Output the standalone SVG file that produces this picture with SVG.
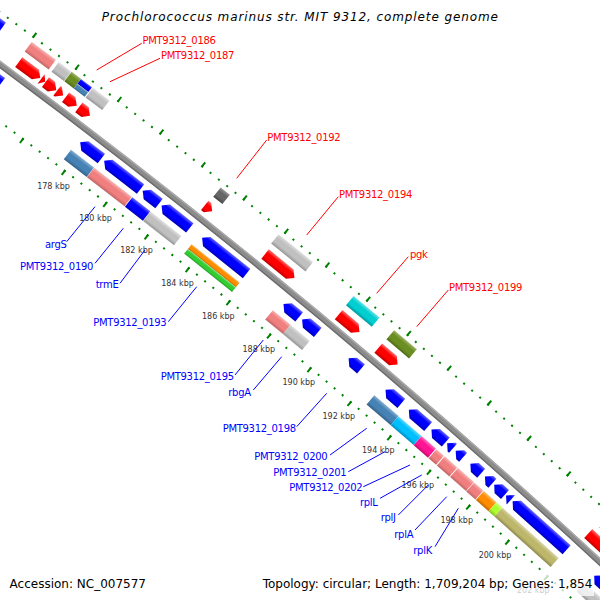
<svg xmlns="http://www.w3.org/2000/svg" width="600" height="600" viewBox="0 0 600 600">
<defs>
<linearGradient id="gRed" x1="0" y1="0" x2="0" y2="1"><stop offset="0" stop-color="#ff7070"/><stop offset="0.3" stop-color="#ff0000"/><stop offset="0.7" stop-color="#ff0000"/><stop offset="1" stop-color="#c00000"/></linearGradient>
<linearGradient id="gBlue" x1="0" y1="0" x2="0" y2="1"><stop offset="0" stop-color="#6a6aff"/><stop offset="0.3" stop-color="#0000ff"/><stop offset="0.7" stop-color="#0000ff"/><stop offset="1" stop-color="#0000b8"/></linearGradient>
<linearGradient id="gGrey" x1="0" y1="0" x2="0" y2="1"><stop offset="0" stop-color="#e0e0e0"/><stop offset="0.3" stop-color="#c0c0c0"/><stop offset="0.7" stop-color="#c0c0c0"/><stop offset="1" stop-color="#959595"/></linearGradient>
<linearGradient id="gDim" x1="0" y1="0" x2="0" y2="1"><stop offset="0" stop-color="#999999"/><stop offset="0.3" stop-color="#666666"/><stop offset="0.7" stop-color="#666666"/><stop offset="1" stop-color="#444444"/></linearGradient>
<linearGradient id="gPink" x1="0" y1="0" x2="0" y2="1"><stop offset="0" stop-color="#f7b5b5"/><stop offset="0.3" stop-color="#f08080"/><stop offset="0.7" stop-color="#f08080"/><stop offset="1" stop-color="#c06565"/></linearGradient>
<linearGradient id="gSteel" x1="0" y1="0" x2="0" y2="1"><stop offset="0" stop-color="#86aed0"/><stop offset="0.3" stop-color="#4682b4"/><stop offset="0.7" stop-color="#4682b4"/><stop offset="1" stop-color="#356287"/></linearGradient>
<linearGradient id="gOlive" x1="0" y1="0" x2="0" y2="1"><stop offset="0" stop-color="#9ab368"/><stop offset="0.3" stop-color="#6b8e23"/><stop offset="0.7" stop-color="#6b8e23"/><stop offset="1" stop-color="#506a1a"/></linearGradient>
<linearGradient id="gCyan" x1="0" y1="0" x2="0" y2="1"><stop offset="0" stop-color="#66e2e3"/><stop offset="0.3" stop-color="#00ced1"/><stop offset="0.7" stop-color="#00ced1"/><stop offset="1" stop-color="#009a9d"/></linearGradient>
<linearGradient id="gSky" x1="0" y1="0" x2="0" y2="1"><stop offset="0" stop-color="#66d9ff"/><stop offset="0.3" stop-color="#00bfff"/><stop offset="0.7" stop-color="#00bfff"/><stop offset="1" stop-color="#008fbf"/></linearGradient>
<linearGradient id="gDeep" x1="0" y1="0" x2="0" y2="1"><stop offset="0" stop-color="#ff72be"/><stop offset="0.3" stop-color="#ff1493"/><stop offset="0.7" stop-color="#ff1493"/><stop offset="1" stop-color="#bf0f6e"/></linearGradient>
<linearGradient id="gOrange" x1="0" y1="0" x2="0" y2="1"><stop offset="0" stop-color="#ffba66"/><stop offset="0.3" stop-color="#ff8c00"/><stop offset="0.7" stop-color="#ff8c00"/><stop offset="1" stop-color="#bf6900"/></linearGradient>
<linearGradient id="gLime" x1="0" y1="0" x2="0" y2="1"><stop offset="0" stop-color="#84e184"/><stop offset="0.3" stop-color="#32cd32"/><stop offset="0.7" stop-color="#32cd32"/><stop offset="1" stop-color="#269a26"/></linearGradient>
<linearGradient id="gGY" x1="0" y1="0" x2="0" y2="1"><stop offset="0" stop-color="#ceff82"/><stop offset="0.3" stop-color="#adff2f"/><stop offset="0.7" stop-color="#adff2f"/><stop offset="1" stop-color="#82bf23"/></linearGradient>
<linearGradient id="gKhaki" x1="0" y1="0" x2="0" y2="1"><stop offset="0" stop-color="#d7d3a6"/><stop offset="0.3" stop-color="#bdb76b"/><stop offset="0.7" stop-color="#bdb76b"/><stop offset="1" stop-color="#8e8950"/></linearGradient>
<style>
.red{fill:url(#gRed)} .blue{fill:url(#gBlue)} .grey{fill:url(#gGrey)} .dim{fill:url(#gDim)}
.pink{fill:url(#gPink)} .steel{fill:url(#gSteel)} .olive{fill:url(#gOlive)} .cyan{fill:url(#gCyan)}
.sky{fill:url(#gSky)} .deep{fill:url(#gDeep)} .orange{fill:url(#gOrange)} .lime{fill:url(#gLime)}
.gy{fill:url(#gGY)} .khaki{fill:url(#gKhaki)}
.ring{fill:none;stroke:#008000}
.tk{font-family:"DejaVu Sans",sans-serif;font-size:8px;fill:#333;text-anchor:middle}
.lr{font-family:"DejaVu Sans",sans-serif;font-size:10px;fill:#ff0000;letter-spacing:-0.3px}
.lb{font-family:"DejaVu Sans",sans-serif;font-size:10px;fill:#0000ff;letter-spacing:-0.3px}
.ll{fill:none;stroke-width:1}
.info{font-family:"DejaVu Sans",sans-serif;font-size:12px;fill:#000}
</style>
</defs>
<rect width="600" height="600" fill="#ffffff"/>
<g id="map" transform="translate(-4284 5840)">
 <g id="rings" transform="rotate(35.8061)">
  <path class="ring" stroke-width="2" stroke-dasharray="2 8.6358" stroke-dashoffset="1" d="M0,-7233 A7233,7233 0 0 1 1006.64,-7162.61"/>
  <path class="ring" stroke-width="6" stroke-dasharray="2 51.179" stroke-dashoffset="1" d="M0,-7235 A7235,7235 0 0 1 1006.92,-7164.59"/>
  <path class="ring" stroke-width="2" stroke-dasharray="2 8.5064" stroke-dashoffset="1" d="M0,-7145 A7145,7145 0 0 1 994.39,-7075.47"/>
  <path class="ring" stroke-width="6" stroke-dasharray="2 50.532" stroke-dashoffset="1" d="M0,-7143 A7143,7143 0 0 1 994.11,-7073.49"/>
 </g>
 <g id="backbone" transform="rotate(35.8061)" fill="none">
  <path stroke="#8c8c8c" stroke-width="6" d="M0,-7191 A7191,7191 0 0 1 1000.79,-7121.02"/>
  <path stroke="#aaaaaa" stroke-width="1.5" d="M0,-7193.5 A7193.5,7193.5 0 0 1 1001.14,-7123.49"/>
  <path stroke="#6e6e6e" stroke-width="1.5" d="M0,-7188.5 A7188.5,7188.5 0 0 1 1000.44,-7118.54"/>
 </g>
 <g id="fwd-cog">
  <g id="fc1" transform="rotate(36.17603) translate(0,-7222)"><rect class="blue" x="0" y="-6" width="29" height="12"/></g>
  <g id="fc2" transform="rotate(36.66199) translate(0,-7222)"><rect class="pink" x="0" y="-6" width="30" height="12"/></g>
  <g id="fc3" transform="rotate(36.92888) translate(0,-7222)"><rect class="grey" x="0" y="-6" width="15.5" height="12"/></g>
  <g id="fc4" transform="rotate(37.05634) translate(0,-7222)"><rect class="olive" x="0" y="-6" width="11.8" height="12"/></g>
  <g id="fc5" transform="rotate(37.15035) translate(0,-7222)"><rect class="blue" x="0" y="-6" width="13.7" height="6"/><rect class="steel" x="0" y="0" width="13.7" height="6"/></g>
  <g id="fc6" transform="rotate(37.26746) translate(0,-7222)"><rect class="grey" x="0" y="-6" width="21" height="12"/></g>
  <g id="fc0192" transform="rotate(38.55247) translate(0,-7222)"><rect class="dim" x="0" y="-6" width="11.7" height="12"/></g>
  <g id="fc0194" transform="rotate(39.14279) translate(0,-7222)"><rect class="grey" x="0" y="-6" width="44.3" height="12"/></g>
  <g id="fc-pgk" transform="rotate(39.91316) translate(0,-7222)"><rect class="cyan" x="0" y="-6" width="33.7" height="12"/></g>
  <g id="fc0199" transform="rotate(40.333) translate(0,-7222)"><rect class="olive" x="0" y="-6" width="29.7" height="12"/></g>
  <g id="fc11" transform="rotate(42.58915) translate(0,-7222)"><rect class="cyan" x="0" y="-6" width="75" height="12"/></g>
 </g>
 <g id="fwd-cds">
  <g id="r1" transform="rotate(36.67474) translate(0,-7204)"><polygon class="red" points="0,-6 20.8,-6 26.8,0 20.8,6 0,6"/></g>
  <g id="r2" transform="rotate(36.89701) translate(0,-7204)"><polygon class="red" points="0,-6 5,0 0,6"/></g>
  <g id="r3" transform="rotate(36.94083) translate(0,-7204)"><polygon class="red" points="0,-6 7.4,-6 13.4,0 7.4,6 0,6"/></g>
  <g id="r4" transform="rotate(37.05554) translate(0,-7204)"><polygon class="red" points="0,-6 1.6,-6 7.6,0 1.6,6 0,6"/></g>
  <g id="r5" transform="rotate(37.14079) translate(0,-7204)"><polygon class="red" points="0,-6 7.9,-6 13.9,0 7.9,6 0,6"/></g>
  <g id="r6" transform="rotate(37.27303) translate(0,-7204)"><polygon class="red" points="0,-6 7.9,-6 13.9,0 7.9,6 0,6"/></g>
  <g id="r7" transform="rotate(38.54211) translate(0,-7204)"><polygon class="red" points="0,-6 3.5,-6 9.5,0 3.5,6 0,6"/></g>
  <g id="r8" transform="rotate(39.15873) translate(0,-7204)"><polygon class="red" points="0,-6 31.8,-6 37.8,0 31.8,6 0,6"/></g>
  <g id="r9" transform="rotate(39.91715) translate(0,-7204)"><polygon class="red" points="0,-6 21.1,-6 27.1,0 21.1,6 0,6"/></g>
  <g id="r10" transform="rotate(40.32902) translate(0,-7204)"><polygon class="red" points="0,-6 19.3,-6 25.3,0 19.3,6 0,6"/></g>
  <g id="r11" transform="rotate(42.55728) translate(0,-7204)"><polygon class="red" points="0,-6 73,-6 79,0 73,6 0,6"/></g>
 </g>
 <g id="rev-cds">
  <g id="l0" transform="rotate(36.2557) translate(0,-7177)"><polygon class="blue" points="0,0 6,-6 51,-6 51,6 6,6"/></g>
  <g id="b1" transform="rotate(37.45069) translate(0,-7177)"><polygon class="blue" points="0,0 6,-6 26.7,-6 26.7,6 6,6"/></g>
  <g id="b2" transform="rotate(37.69208) translate(0,-7177)"><polygon class="blue" points="0,0 6,-6 46,-6 46,6 6,6"/></g>
  <g id="b3" transform="rotate(38.08164) translate(0,-7177)"><polygon class="blue" points="0,0 6,-6 20.8,-6 20.8,6 6,6"/></g>
  <g id="b4" transform="rotate(38.27364) translate(0,-7177)"><polygon class="blue" points="0,0 6,-6 36,-6 36,6 6,6"/></g>
  <g id="b5" transform="rotate(38.6871) translate(0,-7177)"><polygon class="blue" points="0,0 6,-6 57,-6 57,6 6,6"/></g>
  <g id="b6" transform="rotate(39.52439) translate(0,-7177)"><polygon class="blue" points="0,0 6,-6 20.3,-6 20.3,6 6,6"/></g>
  <g id="b7" transform="rotate(39.71719) translate(0,-7177)"><polygon class="blue" points="0,0 6,-6 20.4,-6 20.4,6 6,6"/></g>
  <g id="b8" transform="rotate(40.20155) translate(0,-7177)"><polygon class="blue" points="0,0 6,-6 16.2,-6 16.2,6 6,6"/></g>
  <g id="q1" transform="rotate(40.58873) translate(0,-7177)"><polygon class="blue" points="0,0 6,-6 20.8,-6 20.8,6 6,6"/></g>
  <g id="q2" transform="rotate(40.8341) translate(0,-7177)"><polygon class="blue" points="0,0 6,-6 25.5,-6 25.5,6 6,6"/></g>
  <g id="q3" transform="rotate(41.0731) translate(0,-7177)"><polygon class="blue" points="0,0 6,-6 19,-6 19,6 6,6"/></g>
  <g id="q4" transform="rotate(41.2396) translate(0,-7177)"><polygon class="blue" points="0,0 6,-6 7.8,-6 7.8,6 6,6"/></g>
  <g id="q5" transform="rotate(41.33042) translate(0,-7177)"><polygon class="blue" points="0,0 6,-6 9.9,-6 9.9,6 6,6"/></g>
  <g id="q6" transform="rotate(41.48657) translate(0,-7177)"><polygon class="blue" points="0,0 6,-6 14.4,-6 14.4,6 6,6"/></g>
  <g id="q7" transform="rotate(41.64192) translate(0,-7177)"><polygon class="blue" points="0,0 6,-6 10,-6 10,6 6,6"/></g>
  <g id="q8" transform="rotate(41.7407) translate(0,-7177)"><polygon class="blue" points="0,0 6,-6 14.5,-6 14.5,6 6,6"/></g>
  <g id="q9" transform="rotate(41.86817) translate(0,-7177)"><polygon class="blue" points="0,0 6,-6 6.5,-6 6.5,6 6,6"/></g>
  <g id="q10" transform="rotate(41.93827) translate(0,-7177)"><polygon class="blue" points="0,0 6,-6 72.6,-6 72.6,6 6,6"/></g>
  <g id="q11" transform="rotate(42.82018) translate(0,-7177)"><polygon class="blue" points="0,0 6,-6 76,-6 76,6 6,6"/></g>
 </g>
 <g id="rev-cog">
  <g id="argS" transform="rotate(37.42918) translate(0,-7159.5)"><rect class="steel" x="0" y="-6" width="28.9" height="12"/></g>
  <g id="g0190" transform="rotate(37.6634) translate(0,-7159.5)"><rect class="pink" x="0" y="-6" width="47.5" height="12"/></g>
  <g id="gc3" transform="rotate(38.04898) translate(0,-7159.5)"><rect class="blue" x="0" y="-6" width="22.8" height="12"/></g>
  <g id="trmE" transform="rotate(38.2346) translate(0,-7159.5)"><rect class="grey" x="0" y="-6" width="39.2" height="12"/></g>
  <g id="g0193" transform="rotate(38.65364) translate(0,-7159.5)"><rect class="orange" x="0" y="-6" width="61.4" height="6"/><rect class="lime" x="0" y="0" width="61.4" height="6"/></g>
  <g id="g0195" transform="rotate(39.49014) translate(0,-7159.5)"><rect class="pink" x="0" y="-6" width="23" height="12"/></g>
  <g id="rbgA" transform="rotate(39.67337) translate(0,-7159.5)"><rect class="grey" x="0" y="-6" width="25" height="12"/></g>
  <g id="g0200" transform="rotate(40.5497) translate(0,-7159.5)"><rect class="steel" x="0" y="-6" width="31.9" height="12"/></g>
  <g id="g0201" transform="rotate(40.80463) translate(0,-7159.5)"><rect class="sky" x="0" y="-6" width="30.3" height="12"/></g>
  <g id="g0202" transform="rotate(41.0484) translate(0,-7159.5)"><rect class="deep" x="0" y="-6" width="19" height="12"/></g>
  <g id="rplL" transform="rotate(41.20774) translate(0,-7159.5)"><rect class="pink" x="0" y="-6" width="9.8" height="12"/></g>
  <g id="rplJ" transform="rotate(41.29457) translate(0,-7159.5)"><rect class="pink" x="0" y="-6" width="16.7" height="12"/></g>
  <g id="rplA" transform="rotate(41.43638) translate(0,-7159.5)"><rect class="pink" x="0" y="-6" width="21.2" height="12"/></g>
  <g id="rplK" transform="rotate(41.60925) translate(0,-7159.5)"><rect class="pink" x="0" y="-6" width="12.2" height="12"/></g>
  <g id="gc15" transform="rotate(41.71282) translate(0,-7159.5)"><rect class="orange" x="0" y="-6" width="16.8" height="12"/></g>
  <g id="gc16" transform="rotate(41.84825) translate(0,-7159.5)"><rect class="gy" x="0" y="-6" width="7.8" height="12"/></g>
  <g id="gc17" transform="rotate(41.91198) translate(0,-7159.5)"><rect class="khaki" x="0" y="-6" width="75.5" height="12"/></g>
  <g id="gc18" transform="rotate(42.80424) translate(0,-7159.5)"><rect class="grey" x="0" y="-6" width="78" height="12"/></g>
 </g>
</g>
<g id="tick-labels">
 <text class="tk" x="53.5" y="189">178 kbp</text>
 <text class="tk" x="95.5" y="221">180 kbp</text>
 <text class="tk" x="136.5" y="253">182 kbp</text>
 <text class="tk" x="177.5" y="286">184 kbp</text>
 <text class="tk" x="218.3" y="318.7">186 kbp</text>
 <text class="tk" x="258.8" y="352">188 kbp</text>
 <text class="tk" x="298.8" y="385">190 kbp</text>
 <text class="tk" x="338.8" y="419">192 kbp</text>
 <text class="tk" x="378.3" y="452.7">194 kbp</text>
 <text class="tk" x="417.8" y="487.7">196 kbp</text>
 <text class="tk" x="456.7" y="522.7">198 kbp</text>
 <text class="tk" x="495" y="557.7">200 kbp</text>
 <text class="tk" x="533.3" y="593">202 kbp</text>
</g>
<g id="connectors">
 <g stroke="#ff0000" class="ll">
  <line x1="141.7" y1="43.3" x2="96.7" y2="70"/>
  <line x1="160" y1="58.3" x2="110" y2="81.7"/>
  <line x1="266.7" y1="140" x2="236.7" y2="178.3"/>
  <line x1="338.3" y1="196.7" x2="306.7" y2="235"/>
  <line x1="408.3" y1="256.7" x2="376.7" y2="293.3"/>
  <line x1="448.3" y1="290" x2="416.7" y2="326.7"/>
 </g>
 <g stroke="#0000ff" class="ll">
  <line x1="66.7" y1="241.7" x2="95" y2="206.7"/>
  <line x1="95" y1="263.3" x2="123.3" y2="228.3"/>
  <line x1="120" y1="283.3" x2="145" y2="250"/>
  <line x1="168.3" y1="321.7" x2="196.7" y2="286.7"/>
  <line x1="235" y1="375" x2="263.3" y2="340"/>
  <line x1="253.3" y1="390" x2="281.7" y2="356.7"/>
  <line x1="296.7" y1="426.7" x2="326.7" y2="393.3"/>
  <line x1="330" y1="455" x2="366.7" y2="428.3"/>
  <line x1="348.3" y1="471.7" x2="385" y2="451.7"/>
  <line x1="363.3" y1="486.7" x2="410" y2="465"/>
  <line x1="380" y1="498.3" x2="421.7" y2="475"/>
  <line x1="398.3" y1="515" x2="428.3" y2="485"/>
  <line x1="415" y1="530" x2="446.7" y2="496.7"/>
  <line x1="435" y1="546.7" x2="458.3" y2="508.3"/>
 </g>
</g>
<g id="labels">
 <text class="lr" x="142.5" y="44">PMT9312_0186</text>
 <text class="lr" x="161" y="59">PMT9312_0187</text>
 <text class="lr" x="267.3" y="140.5">PMT9312_0192</text>
 <text class="lr" x="339" y="198">PMT9312_0194</text>
 <text class="lr" x="410" y="257.7">pgk</text>
 <text class="lr" x="449" y="291">PMT9312_0199</text>
 <text class="lb" x="45" y="247.5">argS</text>
 <text class="lb" x="20" y="269.5">PMT9312_0190</text>
 <text class="lb" x="95.7" y="288">trmE</text>
 <text class="lb" x="93.3" y="325.6">PMT9312_0193</text>
 <text class="lb" x="160.7" y="380">PMT9312_0195</text>
 <text class="lb" x="228.3" y="396">rbgA</text>
 <text class="lb" x="222.7" y="432.3">PMT9312_0198</text>
 <text class="lb" x="254.3" y="459.8">PMT9312_0200</text>
 <text class="lb" x="273.3" y="475.8">PMT9312_0201</text>
 <text class="lb" x="289.3" y="490.8">PMT9312_0202</text>
 <text class="lb" x="360" y="506">rplL</text>
 <text class="lb" x="380.7" y="521">rplJ</text>
 <text class="lb" x="394.3" y="537.6">rplA</text>
 <text class="lb" x="413.3" y="554">rplK</text>
</g>
<g id="legend">
 <rect x="256" y="574" width="338" height="22" fill="#ffffff" fill-opacity="0.75"/>
 <text class="info" x="9.6" y="588">Accession: NC_007577</text>
 <text class="info" x="262.7" y="588">Topology: circular; Length: 1,709,204 bp; Genes: 1,854</text>
</g>
<text id="title" x="101.7" y="21" font-family="DejaVu Sans, sans-serif" font-size="12" font-style="italic" letter-spacing="0.9" fill="#000">Prochlorococcus marinus str. MIT 9312, complete genome</text>
</svg>
